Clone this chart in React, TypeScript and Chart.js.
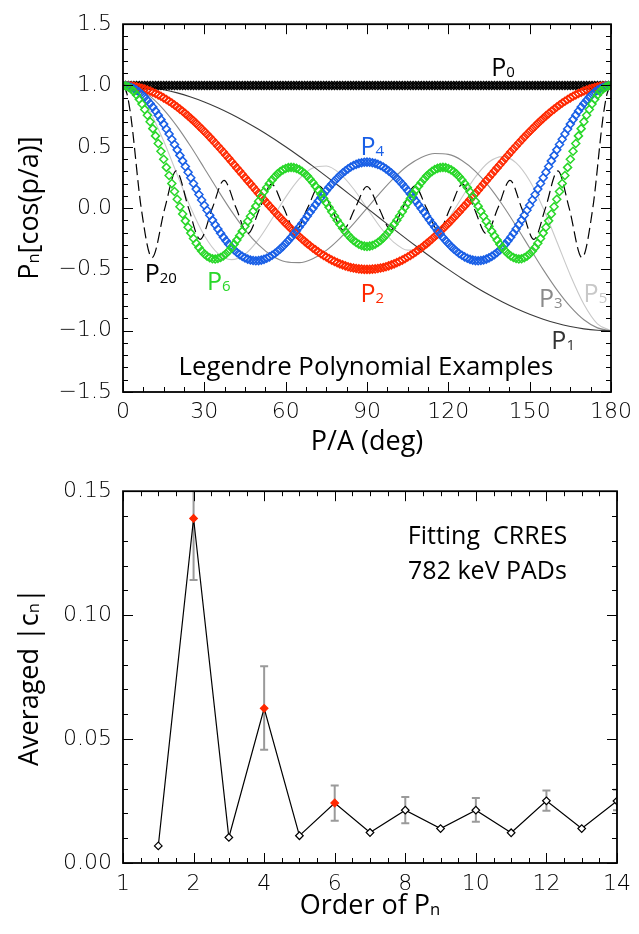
import { useEffect, useRef } from 'react';
import { Chart, registerables } from 'chart.js';

Chart.register(...registerables);

// ---------------- Top panel data (pitch angle in degrees, 1-degree grid) ----------------
const ANGLES_1 = [
  0, 1, 2, 3, 4, 5, 6, 7, 8, 9, 10, 11, 12, 13, 14, 15, 16, 17, 18, 19,
  20, 21, 22, 23, 24, 25, 26, 27, 28, 29, 30, 31, 32, 33, 34, 35, 36, 37, 38, 39,
  40, 41, 42, 43, 44, 45, 46, 47, 48, 49, 50, 51, 52, 53, 54, 55, 56, 57, 58, 59,
  60, 61, 62, 63, 64, 65, 66, 67, 68, 69, 70, 71, 72, 73, 74, 75, 76, 77, 78, 79,
  80, 81, 82, 83, 84, 85, 86, 87, 88, 89, 90, 91, 92, 93, 94, 95, 96, 97, 98, 99,
  100, 101, 102, 103, 104, 105, 106, 107, 108, 109, 110, 111, 112, 113, 114, 115, 116, 117, 118, 119,
  120, 121, 122, 123, 124, 125, 126, 127, 128, 129, 130, 131, 132, 133, 134, 135, 136, 137, 138, 139,
  140, 141, 142, 143, 144, 145, 146, 147, 148, 149, 150, 151, 152, 153, 154, 155, 156, 157, 158, 159,
  160, 161, 162, 163, 164, 165, 166, 167, 168, 169, 170, 171, 172, 173, 174, 175, 176, 177, 178, 179,
  180,
];

const P0 = [
  1, 1, 1, 1, 1, 1, 1, 1, 1, 1, 1, 1, 1, 1, 1, 1, 1, 1, 1, 1,
  1, 1, 1, 1, 1, 1, 1, 1, 1, 1, 1, 1, 1, 1, 1, 1, 1, 1, 1, 1,
  1, 1, 1, 1, 1, 1, 1, 1, 1, 1, 1, 1, 1, 1, 1, 1, 1, 1, 1, 1,
  1, 1, 1, 1, 1, 1, 1, 1, 1, 1, 1, 1, 1, 1, 1, 1, 1, 1, 1, 1,
  1, 1, 1, 1, 1, 1, 1, 1, 1, 1, 1, 1, 1, 1, 1, 1, 1, 1, 1, 1,
  1, 1, 1, 1, 1, 1, 1, 1, 1, 1, 1, 1, 1, 1, 1, 1, 1, 1, 1, 1,
  1, 1, 1, 1, 1, 1, 1, 1, 1, 1, 1, 1, 1, 1, 1, 1, 1, 1, 1, 1,
  1, 1, 1, 1, 1, 1, 1, 1, 1, 1, 1, 1, 1, 1, 1, 1, 1, 1, 1, 1,
  1, 1, 1, 1, 1, 1, 1, 1, 1, 1, 1, 1, 1, 1, 1, 1, 1, 1, 1, 1,
  1,
];

const P2 = [
  1, 1, 0.998, 0.996, 0.993, 0.989, 0.984, 0.978, 0.971, 0.963,
  0.955, 0.945, 0.935, 0.924, 0.912, 0.899, 0.886, 0.872, 0.857, 0.841,
  0.825, 0.807, 0.79, 0.771, 0.752, 0.732, 0.712, 0.691, 0.669, 0.647,
  0.625, 0.602, 0.579, 0.555, 0.531, 0.507, 0.482, 0.457, 0.431, 0.406,
  0.38, 0.354, 0.328, 0.302, 0.276, 0.25, 0.224, 0.198, 0.172, 0.146,
  0.12, 0.094, 0.069, 0.043, 0.018, -0.006, -0.031, -0.055, -0.079, -0.102,
  -0.125, -0.147, -0.169, -0.191, -0.212, -0.232, -0.252, -0.271, -0.29, -0.307,
  -0.325, -0.341, -0.357, -0.372, -0.386, -0.399, -0.412, -0.424, -0.435, -0.445,
  -0.455, -0.463, -0.471, -0.478, -0.484, -0.489, -0.493, -0.496, -0.498, -0.5,
  -0.5,
  -0.5, -0.498, -0.496, -0.493, -0.489, -0.484, -0.478, -0.471, -0.463, -0.455,
  -0.445, -0.435, -0.424, -0.412, -0.399, -0.386, -0.372, -0.357, -0.341, -0.325,
  -0.307, -0.29, -0.271, -0.252, -0.232, -0.212, -0.191, -0.169, -0.147, -0.125,
  -0.102, -0.079, -0.055, -0.031, -0.006, 0.018, 0.043, 0.069, 0.094, 0.12,
  0.146, 0.172, 0.198, 0.224, 0.25, 0.276, 0.302, 0.328, 0.354, 0.38,
  0.406, 0.431, 0.457, 0.482, 0.507, 0.531, 0.555, 0.579, 0.602, 0.625,
  0.647, 0.669, 0.691, 0.712, 0.732, 0.752, 0.771, 0.79, 0.807, 0.825,
  0.841, 0.857, 0.872, 0.886, 0.899, 0.912, 0.924, 0.935, 0.945, 0.955,
  0.963, 0.971, 0.978, 0.984, 0.989, 0.993, 0.996, 0.998, 1, 1,
];

const P4 = [
  1, 0.999, 0.994, 0.986, 0.976, 0.962, 0.946, 0.927, 0.905, 0.88,
  0.853, 0.824, 0.792, 0.758, 0.722, 0.685, 0.645, 0.605, 0.562, 0.519,
  0.475, 0.43, 0.385, 0.339, 0.293, 0.247, 0.201, 0.155, 0.111, 0.066,
  0.023, -0.018, -0.059, -0.098, -0.136, -0.171, -0.205, -0.237, -0.267, -0.294,
  -0.319, -0.342, -0.362, -0.379, -0.394, -0.406, -0.416, -0.423, -0.427, -0.429,
  -0.428, -0.424, -0.418, -0.409, -0.398, -0.385, -0.37, -0.352, -0.333, -0.312,
  -0.289, -0.265, -0.239, -0.212, -0.184, -0.155, -0.126, -0.096, -0.065, -0.034,
  -0.004, 0.027, 0.057, 0.086, 0.115, 0.143, 0.171, 0.196, 0.221, 0.244,
  0.266, 0.286, 0.304, 0.32, 0.335, 0.347, 0.357, 0.365, 0.37, 0.374,
  0.375,
  0.374, 0.37, 0.365, 0.357, 0.347, 0.335, 0.32, 0.304, 0.286, 0.266,
  0.244, 0.221, 0.196, 0.171, 0.143, 0.115, 0.086, 0.057, 0.027, -0.004,
  -0.034, -0.065, -0.096, -0.126, -0.155, -0.184, -0.212, -0.239, -0.265, -0.289,
  -0.312, -0.333, -0.352, -0.37, -0.385, -0.398, -0.409, -0.418, -0.424, -0.428,
  -0.429, -0.427, -0.423, -0.416, -0.406, -0.394, -0.379, -0.362, -0.342, -0.319,
  -0.294, -0.267, -0.237, -0.205, -0.171, -0.136, -0.098, -0.059, -0.018, 0.023,
  0.066, 0.111, 0.155, 0.201, 0.247, 0.293, 0.339, 0.385, 0.43, 0.475,
  0.519, 0.562, 0.605, 0.645, 0.685, 0.722, 0.758, 0.792, 0.824, 0.853,
  0.88, 0.905, 0.927, 0.946, 0.962, 0.976, 0.986, 0.994, 0.999, 1,
];

const P6 = [
  1, 0.997, 0.987, 0.971, 0.95, 0.922, 0.888, 0.849, 0.805, 0.757,
  0.705, 0.648, 0.589, 0.527, 0.464, 0.398, 0.332, 0.266, 0.2, 0.135,
  0.072, 0.011, -0.048, -0.104, -0.156, -0.204, -0.248, -0.287, -0.321, -0.35,
  -0.374, -0.392, -0.405, -0.413, -0.415, -0.411, -0.403, -0.39, -0.372, -0.35,
  -0.324, -0.294, -0.261, -0.226, -0.188, -0.148, -0.108, -0.067, -0.025, 0.016,
  0.056, 0.095, 0.133, 0.168, 0.2, 0.23, 0.256, 0.279, 0.298, 0.312,
  0.323, 0.33, 0.332, 0.33, 0.324, 0.314, 0.3, 0.282, 0.261, 0.236,
  0.209, 0.179, 0.147, 0.114, 0.079, 0.043, 0.007, -0.029, -0.064, -0.099,
  -0.132, -0.164, -0.193, -0.219, -0.243, -0.264, -0.281, -0.295, -0.305, -0.31,
  -0.313,
  -0.31, -0.305, -0.295, -0.281, -0.264, -0.243, -0.219, -0.193, -0.164, -0.132,
  -0.099, -0.064, -0.029, 0.007, 0.043, 0.079, 0.114, 0.147, 0.179, 0.209,
  0.236, 0.261, 0.282, 0.3, 0.314, 0.324, 0.33, 0.332, 0.33, 0.323,
  0.312, 0.298, 0.279, 0.256, 0.23, 0.2, 0.168, 0.133, 0.095, 0.056,
  0.016, -0.025, -0.067, -0.108, -0.148, -0.188, -0.226, -0.261, -0.294, -0.324,
  -0.35, -0.372, -0.39, -0.403, -0.411, -0.415, -0.413, -0.405, -0.392, -0.374,
  -0.35, -0.321, -0.287, -0.248, -0.204, -0.156, -0.104, -0.048, 0.011, 0.072,
  0.135, 0.2, 0.266, 0.332, 0.398, 0.464, 0.527, 0.589, 0.648, 0.705,
  0.757, 0.805, 0.849, 0.888, 0.922, 0.95, 0.971, 0.987, 0.997, 1,
];

const ANGLES_5 = [0, 5, 10, 15, 20, 25, 30, 35, 40, 45, 50, 55, 60, 65, 70, 75, 80, 85, 90, 95, 100, 105, 110, 115, 120, 125, 130, 135, 140, 145, 150, 155, 160, 165, 170, 175, 180];

const P1 = [1, 0.996, 0.985, 0.966, 0.94, 0.906, 0.866, 0.819, 0.766, 0.707, 0.643, 0.574, 0.5, 0.423, 0.342, 0.259, 0.174, 0.087, 0, -0.087, -0.174, -0.259, -0.342, -0.423, -0.5, -0.574, -0.643, -0.707, -0.766, -0.819, -0.866, -0.906, -0.94, -0.966, -0.985, -0.996, -1];

const P3 = [1, 0.977, 0.911, 0.804, 0.665, 0.502, 0.325, 0.146, -0.025, -0.177, -0.3, -0.389, -0.438, -0.445, -0.413, -0.345, -0.247, -0.129, 0, 0.129, 0.247, 0.345, 0.413, 0.445, 0.438, 0.389, 0.3, 0.177, 0.025, -0.146, -0.325, -0.502, -0.665, -0.804, -0.911, -0.977, -1];

const P5 = [1, 0.944, 0.784, 0.547, 0.272, 0.001, -0.223, -0.369, -0.42, -0.376, -0.255, -0.087, 0.09, 0.238, 0.328, 0.343, 0.281, 0.158, 0, -0.158, -0.281, -0.343, -0.328, -0.238, -0.09, 0.087, 0.255, 0.376, 0.42, 0.369, 0.223, -0.001, -0.272, -0.547, -0.784, -0.944, -1];

// P20: read at its turning points and crossings
const ANGLES_20 = [0, 1.5, 3, 6.72, 10.71, 15.43, 19.61, 24.19, 28.43, 32.96, 37.24, 41.73, 46.03, 50.51, 54.83, 59.29, 63.61, 68.06, 72.4, 76.84, 81.18, 85.62, 90, 94.38, 98.82, 103.16, 107.6, 111.94, 116.39, 120.71, 125.17, 129.49, 133.97, 138.27, 142.76, 147.04, 151.57, 155.81, 160.39, 164.57, 169.29, 173.28, 177, 178.5, 180];
const P20 = [1, 0.929, 0.732, 0, -0.404, 0, 0.303, 0, -0.255, 0, 0.226, 0, -0.208, 0, 0.195, 0, -0.186, 0, 0.18, 0, -0.177, 0, 0.176, 0, -0.177, 0, 0.18, 0, -0.186, 0, 0.195, 0, -0.208, 0, 0.226, 0, -0.255, 0, 0.303, 0, -0.404, 0, 0.732, 0.929, 1];

// ---------------- Bottom panel data ----------------
const ORDERS = [1, 2, 3, 4, 5, 6, 7, 8, 9, 10, 11, 12, 13, 14];
const AVG_CN = [0.0069, 0.139, 0.0103, 0.0624, 0.011, 0.0242, 0.0123, 0.0213, 0.0139, 0.0213, 0.0122, 0.0251, 0.0139, 0.025];
const ERR_LO = [null, 0.1142, null, 0.0457, null, 0.017, null, 0.016, null, 0.0166, null, 0.0211, null, 0.0213];
const ERR_HI = [null, 0.165, null, 0.0794, null, 0.0313, null, 0.0266, null, 0.0262, null, 0.0293, null, 0.0296];
const HIGHLIGHT_ORDERS = [2, 4, 6];
const ORDER_TICK_LABELS = ['1', '2', '4', '6', '8', '10', '12', '14'];

// ---------------- styling ----------------
const RED = 'rgb(255,40,0)';
const BLUE = 'rgb(25,95,230)';
const GREEN = 'rgb(40,215,40)';
const GRAY1 = '#3a3a3a';
const GRAY3 = '#8a8a8a';
const GRAY5 = '#c8c8c8';
const TEXT_FONT = '"Open Sans", "Noto Sans", sans-serif';
const TICK_FONT = '"DejaVu Sans", sans-serif';

type Seg = [string, number];
type Label = { x: number; y: number; segs: Seg[]; size: number; color: string; align: 'left' | 'center' };

const TOP_LABELS: Label[] = [
  { x: 135.8, y: 1.076, segs: [['P', 1], ['0', 0.6]], size: 25, color: '#000', align: 'left' },
  { x: 87.6, y: 0.436, segs: [['P', 1], ['4', 0.6]], size: 25, color: BLUE, align: 'left' },
  { x: 87.6, y: -0.764, segs: [['P', 1], ['2', 0.6]], size: 25, color: RED, align: 'left' },
  { x: 8.0, y: -0.604, segs: [['P', 1], ['20', 0.6]], size: 25, color: '#000', align: 'left' },
  { x: 31.0, y: -0.668, segs: [['P', 1], ['6', 0.6]], size: 25, color: GREEN, align: 'left' },
  { x: 153.4, y: -0.804, segs: [['P', 1], ['3', 0.6]], size: 25, color: GRAY3, align: 'left' },
  { x: 169.9, y: -0.764, segs: [['P', 1], ['5', 0.6]], size: 25, color: GRAY5, align: 'left' },
  { x: 158.0, y: -1.148, segs: [['P', 1], ['1', 0.6]], size: 25, color: '#333', align: 'left' },
  { x: 89.6, y: -1.364, segs: [['Legendre Polynomial Examples', 1]], size: 25.8, color: '#000', align: 'center' },
];

const BOTTOM_LABELS: Label[] = [
  { x: 10.33, y: 0.1285, segs: [['Fitting  CRRES', 1]], size: 25, color: '#000', align: 'center' },
  { x: 10.33, y: 0.1146, segs: [['782 keV PADs', 1]], size: 25, color: '#000', align: 'center' },
];

function drawRich(ctx: CanvasRenderingContext2D, segs: Seg[], x: number, y: number, size: number, align: 'left' | 'center') {
  let total = 0;
  const widths: number[] = [];
  for (const [t, f] of segs) {
    ctx.font = `${(size * f).toFixed(1)}px ${TEXT_FONT}`;
    const w = ctx.measureText(t).width;
    widths.push(w);
    total += w;
  }
  let cx = align === 'center' ? x - total / 2 : x;
  segs.forEach(([t, f], i) => {
    ctx.font = `${(size * f).toFixed(1)}px ${TEXT_FONT}`;
    ctx.fillText(t, cx, y + (f < 1 ? 1 : 0));
    cx += widths[i];
  });
}

function makeTextPlugin(labels: Label[], xTitle: Seg[], xTitleOffset: number, yTitle: Seg[], yTitleX: number, titleSize: number) {
  return {
    id: 'richText',
    afterDraw(chart: any) {
      const { ctx, chartArea: a } = chart;
      const xs = chart.scales.x;
      const ys = chart.scales.y;
      ctx.save();
      ctx.textBaseline = 'alphabetic';
      ctx.textAlign = 'left';
      for (const l of labels) {
        ctx.fillStyle = l.color;
        drawRich(ctx, l.segs, xs.getPixelForValue(l.x), ys.getPixelForValue(l.y), l.size, l.align);
      }
      ctx.fillStyle = '#000';
      drawRich(ctx, xTitle, (a.left + a.right) / 2, a.bottom + xTitleOffset, titleSize, 'center');
      ctx.translate(yTitleX, (a.top + a.bottom) / 2);
      ctx.rotate(-Math.PI / 2);
      drawRich(ctx, yTitle, 0, 0, titleSize, 'center');
      ctx.restore();
    },
  };
}

function makeFramePlugin(xMajor: number, xMinor: number, yMajor: number, yMinor: number) {
  const isMajor = (v: number, step: number) => Math.abs(v / step - Math.round(v / step)) < 1e-6;
  return {
    id: 'frameTicks',
    afterDatasetsDraw(chart: any) {
      const { ctx, chartArea: a } = chart;
      const xs = chart.scales.x;
      const ys = chart.scales.y;
      ctx.save();
      ctx.strokeStyle = '#000';
      ctx.lineWidth = 1;
      ctx.beginPath();
      const nx = Math.round((xs.max - xs.min) / xMinor);
      for (let i = 0; i <= nx; i++) {
        const v = xs.min + i * xMinor;
        const px = Math.round(xs.getPixelForValue(v)) + 0.5;
        const len = isMajor(v, xMajor) ? 10 : 5;
        ctx.moveTo(px, a.bottom);
        ctx.lineTo(px, a.bottom - len);
        ctx.moveTo(px, a.top);
        ctx.lineTo(px, a.top + len);
      }
      const ny = Math.round((ys.max - ys.min) / yMinor);
      for (let i = 0; i <= ny; i++) {
        const v = ys.min + i * yMinor;
        const py = Math.round(ys.getPixelForValue(v)) + 0.5;
        const len = isMajor(v, yMajor) ? 10 : 5;
        ctx.moveTo(a.left, py);
        ctx.lineTo(a.left + len, py);
        ctx.moveTo(a.right, py);
        ctx.lineTo(a.right - len, py);
      }
      ctx.stroke();
      ctx.lineWidth = 1.8;
      ctx.strokeRect(a.left, a.top, a.right - a.left, a.bottom - a.top);
      ctx.restore();
    },
  };
}

const errorBarPlugin = {
  id: 'errorBars',
  beforeDatasetsDraw(chart: any) {
    const { ctx, chartArea: a } = chart;
    const xs = chart.scales.x;
    const ys = chart.scales.y;
    ctx.save();
    ctx.beginPath();
    ctx.rect(a.left, a.top, a.right - a.left, a.bottom - a.top);
    ctx.clip();
    ctx.strokeStyle = '#9a9a9a';
    ctx.lineWidth = 2;
    ORDERS.forEach((o, i) => {
      const lo = ERR_LO[i];
      const hi = ERR_HI[i];
      if (lo == null || hi == null) return;
      const px = xs.getPixelForValue(o);
      const pLo = ys.getPixelForValue(lo);
      const pHi = ys.getPixelForValue(hi);
      ctx.beginPath();
      ctx.moveTo(px, pLo);
      ctx.lineTo(px, pHi);
      ctx.moveTo(px - 4, pLo);
      ctx.lineTo(px + 4, pLo);
      ctx.moveTo(px - 4, pHi);
      ctx.lineTo(px + 4, pHi);
      ctx.stroke();
    });
    ctx.restore();
  },
};

const fmtSigned = (v: number, d: number) => (v < -1e-9 ? '\u2212' + Math.abs(v).toFixed(d) : Math.abs(v).toFixed(d));

const tickFont = { family: TICK_FONT, size: 22, weight: 200 as any };
const TICK_COLOR = '#000';

function markerSet(xs: number[], ys: number[], color: string) {
  return {
    data: xs.map((x, i) => ({ x, y: ys[i] })),
    showLine: false,
    pointStyle: 'rectRot',
    pointRadius: 4,
    pointBorderWidth: 1.5,
    pointBorderColor: color,
    pointBackgroundColor: 'rgba(0,0,0,0)',
    borderColor: color,
    backgroundColor: 'rgba(0,0,0,0)',
  };
}

function lineSet(xs: number[], ys: number[], color: string, width: number, dash?: number[]) {
  return {
    data: xs.map((x, i) => ({ x, y: ys[i] })),
    borderColor: color,
    borderWidth: width,
    borderDash: dash || [],
    pointRadius: 0,
    cubicInterpolationMode: 'monotone',
    fill: false,
  };
}

export default function App() {
  const topRef = useRef<HTMLCanvasElement>(null);
  const botRef = useRef<HTMLCanvasElement>(null);

  useEffect(() => {
    const top = new Chart(topRef.current as HTMLCanvasElement, {
      type: 'line',
      data: {
        datasets: [
          markerSet(ANGLES_1, P6, GREEN),
          markerSet(ANGLES_1, P4, BLUE),
          markerSet(ANGLES_1, P2, RED),
          markerSet(ANGLES_1, P0, '#000'),
          lineSet(ANGLES_20, P20, '#000', 1.2, [11, 5]),
          lineSet(ANGLES_5, P1, GRAY1, 1.1),
          lineSet(ANGLES_5, P3, GRAY3, 1.1),
          lineSet(ANGLES_5, P5, GRAY5, 1.1),
        ] as any,
      },
      options: {
        responsive: false,
        animation: false,
        events: [],
        layout: { padding: { top: 17, right: 21, left: 0, bottom: 0 } },
        plugins: { legend: { display: false }, tooltip: { enabled: false } },
        scales: {
          x: {
            type: 'linear',
            min: 0,
            max: 180,
            afterFit: (s: any) => { s.height = 75; },
            grid: { display: false, drawTicks: false },
            border: { display: false },
            ticks: { stepSize: 30, padding: 7, font: tickFont, color: TICK_COLOR, maxRotation: 0, autoSkip: false },
          },
          y: {
            type: 'linear',
            min: -1.5,
            max: 1.5,
            afterFit: (s: any) => { s.width = 123; },
            grid: { display: false, drawTicks: false },
            border: { display: false },
            ticks: { stepSize: 0.5, padding: 11, font: tickFont, color: TICK_COLOR, callback: (v: any) => fmtSigned(Number(v), 1) },
          },
        },
      },
      plugins: [
        makeFramePlugin(30, 7.5, 0.5, 0.1),
        makeTextPlugin(TOP_LABELS, [['P/A (deg)', 1]], 58, [['P', 1], ['n', 0.62], ['[cos(p/a)]', 1]], 38, 27),
      ],
    });

    const bottom = new Chart(botRef.current as HTMLCanvasElement, {
      type: 'line',
      data: {
        datasets: [
          {
            data: ORDERS.map((o, i) => ({ x: o, y: AVG_CN[i] })),
            borderColor: '#000',
            borderWidth: 1.2,
            tension: 0,
            pointStyle: 'rectRot',
            pointRadius: 3.8,
            pointBorderWidth: 1.2,
            pointBackgroundColor: ORDERS.map((o) => (HIGHLIGHT_ORDERS.includes(o) ? RED : '#fff')),
            pointBorderColor: ORDERS.map((o) => (HIGHLIGHT_ORDERS.includes(o) ? RED : '#000')),
          },
        ] as any,
      },
      options: {
        responsive: false,
        animation: false,
        events: [],
        layout: { padding: { top: 22, right: 22, left: 0, bottom: 0 } },
        plugins: { legend: { display: false }, tooltip: { enabled: false } },
        scales: {
          x: {
            type: 'linear',
            min: 0,
            max: 14,
            afterFit: (s: any) => { s.height = 71; },
            grid: { display: false, drawTicks: false },
            border: { display: false },
            ticks: {
              stepSize: 2,
              padding: 8,
              font: tickFont,
              color: TICK_COLOR,
              maxRotation: 0,
              autoSkip: false,
              callback: (v: any, i: number) => ORDER_TICK_LABELS[i] ?? String(v),
            },
          },
          y: {
            type: 'linear',
            min: 0,
            max: 0.15,
            afterFit: (s: any) => { s.width = 123; },
            grid: { display: false, drawTicks: false },
            border: { display: false },
            ticks: { stepSize: 0.05, padding: 11, font: tickFont, color: TICK_COLOR, callback: (v: any) => Number(v).toFixed(2) },
          },
        },
      },
      plugins: [
        errorBarPlugin,
        makeFramePlugin(2, 0.5, 0.05, 0.01),
        makeTextPlugin(BOTTOM_LABELS, [['Order of P', 1], ['n', 0.62]], 51, [['Averaged |c', 1], ['n', 0.62], ['|', 1]], 38, 27),
      ],
    });

    return () => {
      top.destroy();
      bottom.destroy();
    };
  }, []);

  return (
    <div style={{ position: 'absolute', left: 0, top: 0, width: 639, height: 934, background: '#fff' }}>
      <canvas ref={topRef} width={639} height={467} style={{ display: 'block' }} />
      <canvas ref={botRef} width={639} height={467} style={{ display: 'block' }} />
    </div>
  );
}
